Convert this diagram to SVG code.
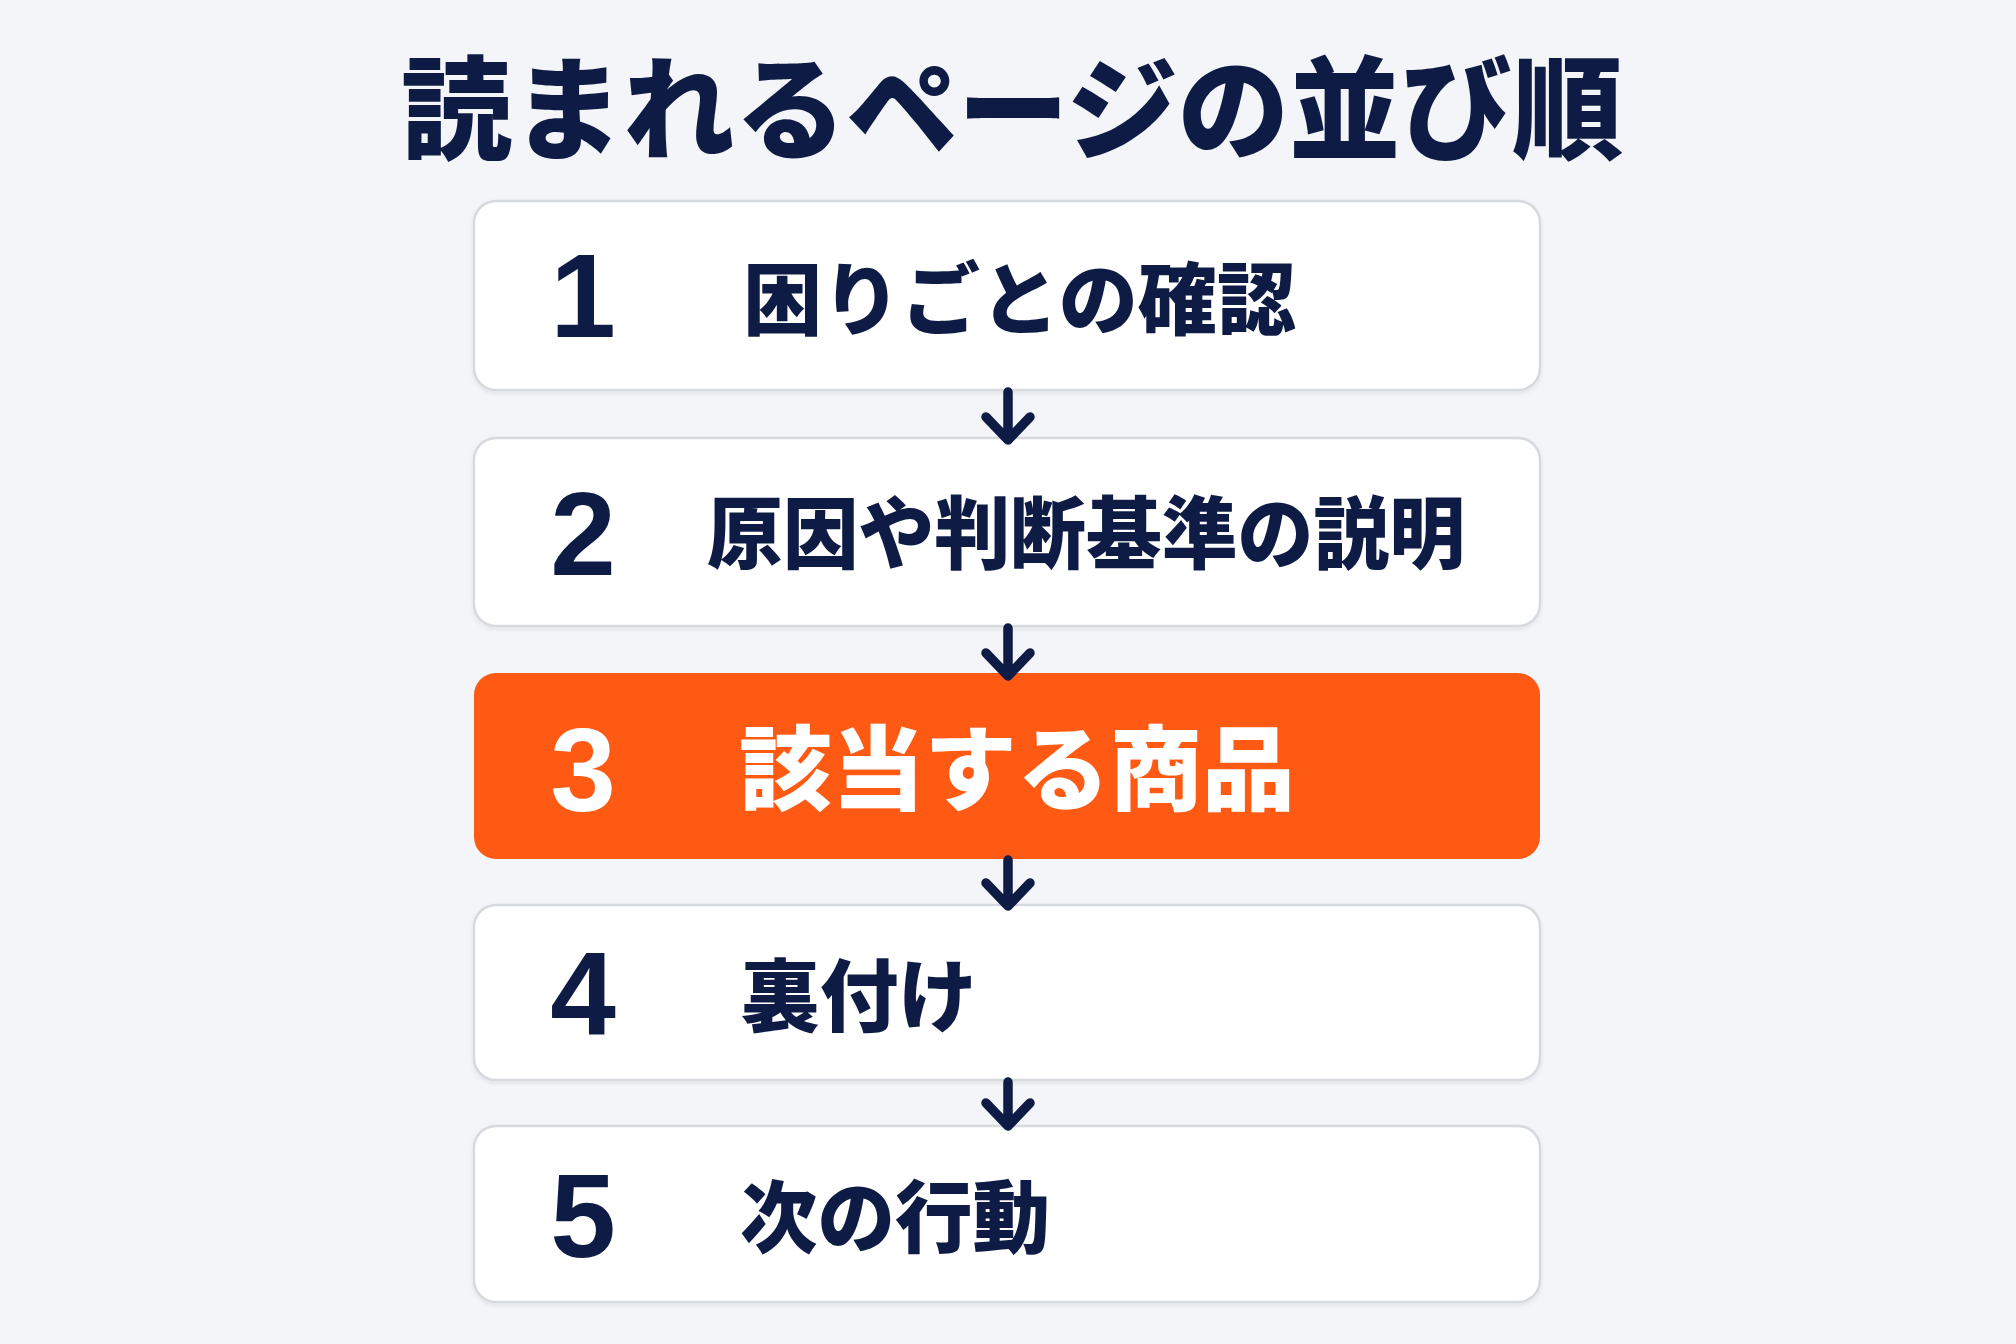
<svg xmlns="http://www.w3.org/2000/svg" width="2016" height="1344" viewBox="0 0 2016 1344">
  <defs>
    <style>
      .jp { font-family: "Noto Sans CJK JP", "Noto Sans CJK SC", sans-serif; font-weight: 900; }
      .num { font-family: "Liberation Sans", Arial, sans-serif; font-weight: 700; font-size: 118px; text-anchor: middle; }
      .box { fill: #ffffff; stroke: #d6d9de; stroke-width: 2.5; }
      .hl { fill: #ff5a14; }
      .navy { fill: #0e1c45; }
      .white { fill: #ffffff; }
      .arrow { fill: none; stroke: #0e1c45; stroke-width: 9.5; stroke-linecap: round; stroke-linejoin: round; }
    </style>
    <filter id="sh" x="-5%" y="-10%" width="110%" height="130%">
      <feDropShadow dx="0" dy="2" stdDeviation="2" flood-color="#000" flood-opacity="0.08"/>
    </filter>
  </defs>
  <rect width="2016" height="1344" fill="#f3f5f8"/>

  <text id="title" class="jp navy" x="1012" y="151" font-size="112" text-anchor="middle" textLength="1222" lengthAdjust="spacingAndGlyphs">読まれるページの並び順</text>

  <g id="node1">
    <rect class="box" x="474" y="201" width="1066" height="189" rx="22" filter="url(#sh)"/>
    <text class="num navy" x="583" y="337">1</text>
    <text class="jp navy" x="743" y="329" font-size="79" textLength="553" lengthAdjust="spacingAndGlyphs">困りごとの確認</text>
  </g>
  <g id="node2">
    <rect class="box" x="474" y="438" width="1066" height="188" rx="22" filter="url(#sh)"/>
    <text class="num navy" x="583" y="575">2</text>
    <text class="jp navy" x="707" y="563" font-size="79" textLength="758" lengthAdjust="spacingAndGlyphs">原因や判断基準の説明</text>
  </g>
  <g id="node3">
    <rect class="hl" x="474" y="673" width="1066" height="186" rx="22"/>
    <text class="num white" x="583" y="811" font-size="122">3</text>
    <text class="jp white" x="739" y="803" font-size="92" textLength="556" lengthAdjust="spacingAndGlyphs">該当する商品</text>
  </g>
  <g id="node4">
    <rect class="box" x="474" y="905" width="1066" height="175" rx="22" filter="url(#sh)"/>
    <text class="num navy" x="583" y="1035">4</text>
    <text class="jp navy" x="741" y="1026" font-size="79" textLength="236" lengthAdjust="spacingAndGlyphs">裏付け</text>
  </g>
  <g id="node5">
    <rect class="box" x="474" y="1126" width="1066" height="176" rx="22" filter="url(#sh)"/>
    <text class="num navy" x="583" y="1257">5</text>
    <text class="jp navy" x="740" y="1247" font-size="79" textLength="310" lengthAdjust="spacingAndGlyphs">次の行動</text>
  </g>

  <g id="connectors">
    <path class="arrow" d="M1008 392 V440 M986 417 L1008 440 L1030 417"/>
    <path class="arrow" d="M1008 628 V676 M986 653 L1008 676 L1030 653"/>
    <path class="arrow" d="M1008 860 V906 M986 883 L1008 906 L1030 883"/>
    <path class="arrow" d="M1008 1082 V1126 M986 1103 L1008 1126 L1030 1103"/>
  </g>
</svg>
